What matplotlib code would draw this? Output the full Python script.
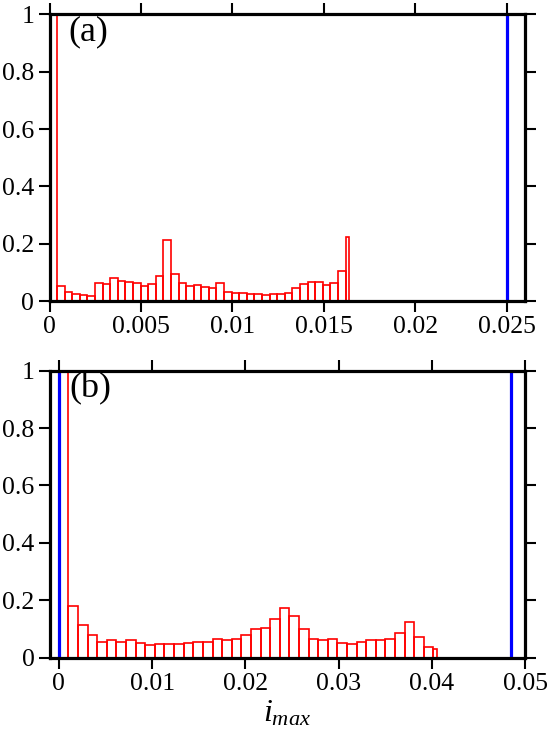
import numpy as np
import matplotlib
matplotlib.use('Agg')
import matplotlib.pyplot as plt

plt.rcParams['font.family'] = ['Liberation Serif', 'DejaVu Serif']
plt.rcParams['mathtext.fontset'] = 'custom'
plt.rcParams['mathtext.rm'] = 'Liberation Serif'
plt.rcParams['mathtext.it'] = 'Liberation Serif:italic'

# panel (a): bin width, first (clipped) bin, then the visible bars
bin_a = 0.000415
last_edge_a = 0.0164
spike_a = 1.3
heights_a = [0.052, 0.033, 0.024, 0.021, 0.019, 0.063, 0.059, 0.080, 0.070, 0.067,
             0.062, 0.052, 0.061, 0.088, 0.214, 0.093, 0.063, 0.051, 0.055, 0.048,
             0.046, 0.062, 0.033, 0.027, 0.028, 0.025, 0.023, 0.022, 0.024, 0.026,
             0.027, 0.047, 0.059, 0.067, 0.066, 0.056, 0.062, 0.103, 0.223]
blue_a = [0.025]

# panel (b)
bin_b = 0.00103
last_edge_b = 0.0406
spike_b = 1.3
heights_b = [0.179, 0.115, 0.080, 0.054, 0.060, 0.056, 0.061, 0.052, 0.045, 0.048,
             0.048, 0.048, 0.051, 0.055, 0.056, 0.064, 0.062, 0.066, 0.080, 0.099,
             0.102, 0.136, 0.172, 0.146, 0.099, 0.066, 0.061, 0.066, 0.051, 0.047,
             0.054, 0.062, 0.062, 0.066, 0.085, 0.126, 0.072, 0.038, 0.031]
blue_b = [0.0, 0.0485]

xticks_a = [0, 0.005, 0.01, 0.015, 0.02, 0.025]
xlabels_a = ['0', '0.005', '0.01', '0.015', '0.02', '0.025']
xticks_b = [0, 0.01, 0.02, 0.03, 0.04, 0.05]
xlabels_b = ['0', '0.01', '0.02', '0.03', '0.04', '0.05']
yticks = [0, 0.2, 0.4, 0.6, 0.8, 1]
ylabels = ['0', '0.2', '0.4', '0.6', '0.8', '1']

fig = plt.figure(figsize=(5.49, 7.31), dpi=100)
ax_a = fig.add_axes([0.0902, 0.5882, 0.8661, 0.3922])
ax_b = fig.add_axes([0.0911, 0.1003, 0.8652, 0.3926])


def draw_panel(ax, w, last_edge, spike, heights, blues, xlim, xt, xl, tag):
    n = len(heights)
    # edges: n full bins after the spike bin, the final bar ends at last_edge
    edges = [k * w for k in range(n + 1)] + [last_edge]
    vals = [spike] + heights
    lefts = np.array(edges[:-1])
    widths = np.diff(edges)
    ax.bar(lefts, vals, width=widths, align='edge', facecolor='none',
           edgecolor='red', linewidth=1.2, zorder=2)
    for xb in blues:
        ax.axvline(xb, color='blue', linewidth=2.3, zorder=3)
    ax.set_xlim(*xlim)
    ax.set_ylim(0, 1)
    ax.set_xticks(xt)
    ax.set_xticklabels(xl)
    ax.set_yticks(yticks)
    ax.set_yticklabels(ylabels)
    ax.tick_params(direction='out', length=8, width=1.5, labelsize=18.5,
                   top=True, right=True, pad=3)
    for s in ax.spines.values():
        s.set_linewidth(2.3)
        s.set_zorder(4)
    ax.text(0.04, 0.995, tag, transform=ax.transAxes, fontsize=26,
            ha='left', va='top')


draw_panel(ax_a, bin_a, last_edge_a, spike_a, heights_a, blue_a,
           (0, 0.026), xticks_a, xlabels_a, '(a)')
draw_panel(ax_b, bin_b, last_edge_b, spike_b, heights_b, blue_b,
           (-0.00095, 0.05), xticks_b, xlabels_b, '(b)')
ax_b.set_xlabel(r'$i_{max}$', fontsize=23, labelpad=3)

fig.savefig('out.png', dpi=100)
